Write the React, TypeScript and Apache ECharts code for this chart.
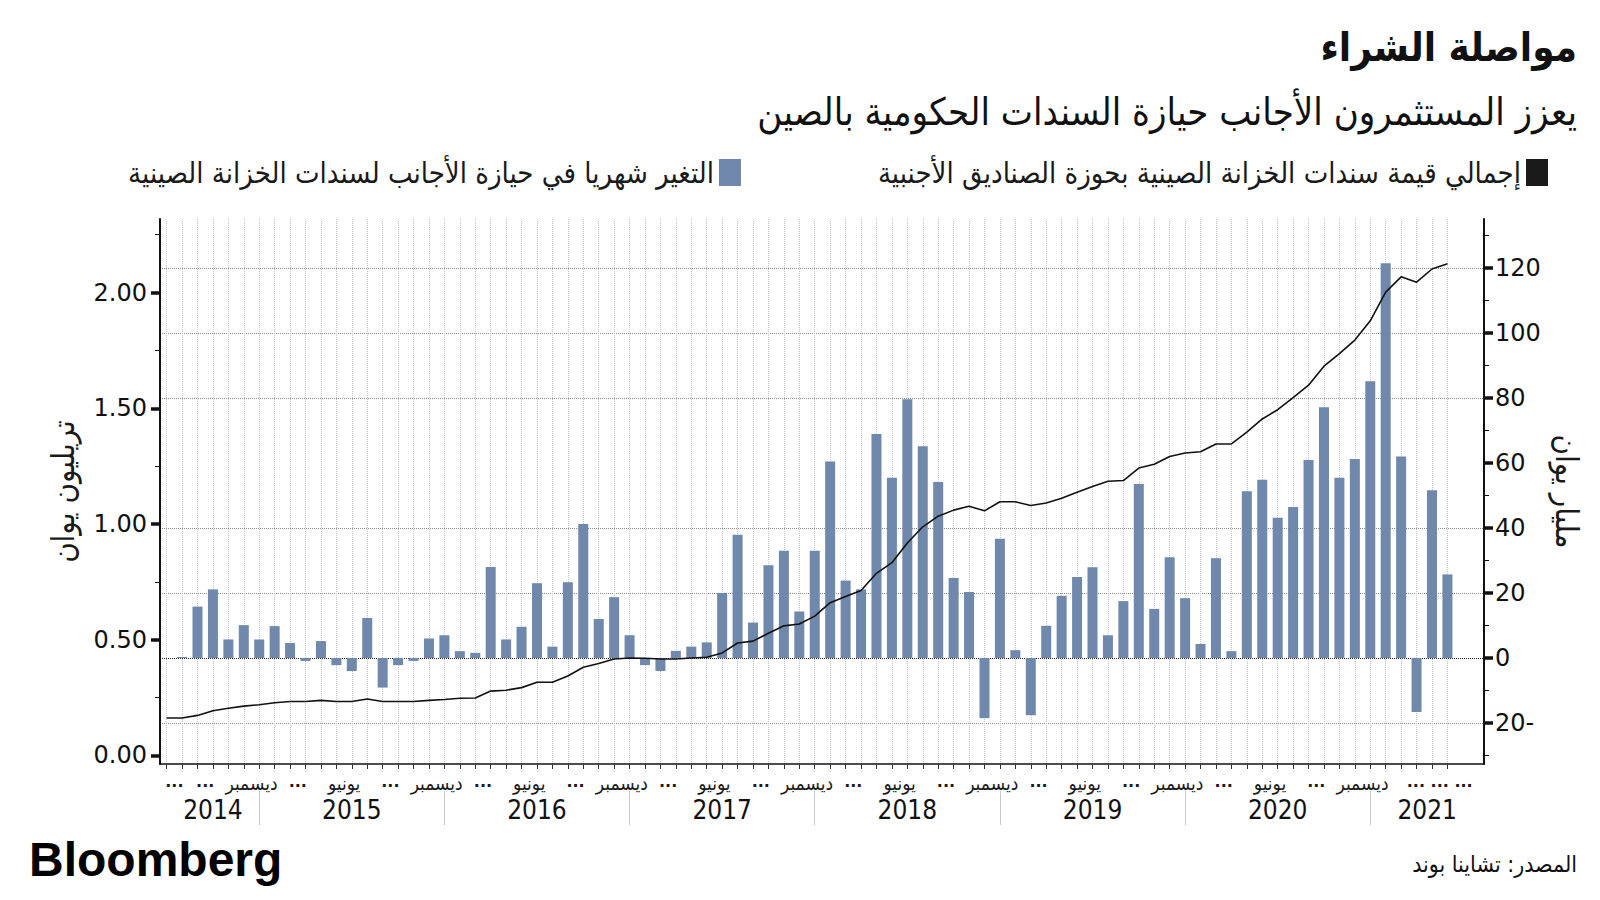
import React, { useEffect, useRef } from "react";
import * as echarts from "echarts";

const AR = "'DejaVu Sans Condensed', 'DejaVu Sans', sans-serif";
const NUM = "'DejaVu Sans', sans-serif";

const titleText = "مواصلة الشراء";
const subtitleText = "يعزز المستثمرون الأجانب حيازة السندات الحكومية بالصين";
const lineName = "إجمالي قيمة سندات الخزانة الصينية بحوزة الصناديق الأجنبية";
const barName = "التغير شهريا في حيازة الأجانب لسندات الخزانة الصينية";
const leftAxisName = "تريليون يوان";
const rightAxisName = "مليار يوان";
const sourceText = "المصدر: تشاينا بوند";
const brandText = "Bloomberg";

// month-end data, first point = June 2014
const startYear = 2014;
const startMonth = 6;

// total holdings, trillion yuan (left axis)
const holdings = [
  0.162, 0.162, 0.173, 0.193, 0.204, 0.213, 0.219, 0.228, 0.233, 0.233,
  0.238, 0.233, 0.233, 0.244, 0.233, 0.233, 0.233, 0.238, 0.242, 0.247,
  0.248, 0.278, 0.282, 0.293, 0.316, 0.316, 0.343, 0.381, 0.397, 0.417,
  0.421, 0.42, 0.417, 0.417, 0.421, 0.424, 0.443, 0.486, 0.494, 0.528,
  0.56, 0.568, 0.602, 0.66, 0.687, 0.713, 0.787, 0.833, 0.918, 0.988,
  1.034, 1.06, 1.077, 1.057, 1.096, 1.096, 1.08, 1.091, 1.111, 1.137,
  1.162, 1.185, 1.188, 1.242, 1.258, 1.292, 1.307, 1.312, 1.346, 1.346,
  1.397, 1.454, 1.494, 1.546, 1.6, 1.682, 1.736, 1.795, 1.878, 2.002,
  2.068, 2.045, 2.102, 2.125,
];

// monthly change, billion yuan (right axis)
const changes: (number | null)[] = [
  null, 0.3, 15.8, 21.1, 5.7, 10.1, 5.7, 9.8, 4.6, -0.9,
  5.2, -2.2, -4.0, 12.3, -9.1, -2.2, -0.9, 6.0, 7.0, 2.1,
  1.6, 28.0, 5.7, 9.6, 23.0, 3.5, 23.3, 41.2, 12.0, 18.7,
  7.0, -2.2, -4.0, 2.2, 3.5, 4.8, 20.0, 37.9, 10.9, 28.5,
  33.0, 14.3, 33.0, 60.4, 23.8, 21.1, 68.9, 55.4, 79.6, 65.1,
  54.1, 24.6, 20.3, -18.5, 36.7, 2.4, -17.6, 9.9, 19.1, 24.9,
  27.9, 7.0, 17.5, 53.5, 15.1, 31.0, 18.4, 4.3, 30.7, 2.1,
  51.3, 54.8, 43.1, 46.4, 60.9, 77.1, 55.4, 61.2, 85.1, 121.4,
  62.0, -16.6, 51.6, 25.7,
];

// axis tick values
const leftTicks = [0, 0.5, 1, 1.5, 2];
const leftAllTicks = [0, 0.25, 0.5, 0.75, 1, 1.25, 1.5, 1.75, 2, 2.25];
const rightTicks = [-20, 0, 20, 40, 60, 80, 100, 120];
const rightAllTicks = [-30, -20, -10, 0, 10, 20, 30, 40, 50, 60, 70, 80, 90, 100, 110, 120, 130];
const rightGridValues = [-20, 20, 40, 80, 100, 120];

// month tick labels (shown mid-month)
const monthTickLabels: [string, string][] = [
  ["2014-07", "..."], ["2014-09", "..."], ["2014-12", "ديسمبر"],
  ["2015-03", "..."], ["2015-06", "يونيو"], ["2015-09", "..."], ["2015-12", "ديسمبر"],
  ["2016-03", "..."], ["2016-06", "يونيو"], ["2016-09", "..."], ["2016-12", "ديسمبر"],
  ["2017-03", "..."], ["2017-06", "يونيو"], ["2017-09", "..."], ["2017-12", "ديسمبر"],
  ["2018-03", "..."], ["2018-06", "يونيو"], ["2018-09", "..."], ["2018-12", "ديسمبر"],
  ["2019-03", "..."], ["2019-06", "يونيو"], ["2019-09", "..."], ["2019-12", "ديسمبر"],
  ["2020-03", "..."], ["2020-06", "يونيو"], ["2020-09", "..."], ["2020-12", "ديسمبر"],
  ["2021-05", "... ... ..."],
];

const monthKeys: string[] = holdings.map((_, i) => {
  const t = startMonth - 1 + i;
  const y = startYear + Math.floor(t / 12);
  const m = (t % 12) + 1;
  return `${y}-${String(m).padStart(2, "0")}`;
});

export default function App() {
  const ref = useRef<HTMLDivElement>(null);

  useEffect(() => {
    if (!ref.current) return;
    const chart = echarts.init(ref.current, undefined, { renderer: "svg" });

    const xMin = -0.43;
    const xMax = 85.37;
    const idxOf = (k: string) => monthKeys.indexOf(k);
    const monthIdx = monthKeys.map((_, i) => i);

    const monthLabelPos = monthTickLabels.map(([k]) => idxOf(k) - 0.5);
    const monthLabelText = (v: number) => {
      const k = monthLabelPos.findIndex((p) => Math.abs(p - v) < 1e-6);
      if (k < 0) return "";
      const t = monthTickLabels[k][1];
      return t.startsWith("...") ? `{d|${t}}` : t;
    };

    const decIdx = monthIdx.filter((i) => monthKeys[i].endsWith("-12"));
    const years = Array.from(new Set(monthKeys.map((k) => k.slice(0, 4))));
    const yearPos = years.map((y) => {
      const prev = monthKeys.indexOf(`${Number(y) - 1}-12`);
      const cur = monthKeys.indexOf(`${y}-12`);
      const lo = prev >= 0 ? prev : 0;
      const hi = cur >= 0 ? cur : xMax;
      return (lo + hi) / 2;
    });
    const yearText = (v: number) => {
      const k = yearPos.findIndex((p) => Math.abs(p - v) < 1e-6);
      return k < 0 ? "" : years[k];
    };

    const gridColors = rightAllTicks.map((v) =>
      v === 0 ? "#2a2a2a" : rightGridValues.includes(v) ? "#8c8c8c" : "rgba(0,0,0,0)"
    );

    const lMin = -0.037, lMax = 2.318;
    const rMin = -32.6, rMax = 135;

    const option: any = {
      animation: false,
      backgroundColor: "#ffffff",
      grid: { left: 160, right: 116, top: 219, bottom: 136 },
      legend: [
        {
          data: [{ name: lineName, icon: "rect" }],
          right: 47,
          top: 153,
          align: "right",
          itemWidth: 22,
          itemHeight: 27,
          selectedMode: false,
          textStyle: { fontFamily: AR, fontSize: 29, color: "#1a1a1a" },
        },
        {
          data: [{ name: barName, icon: "rect" }],
          right: 854,
          top: 153,
          align: "right",
          itemWidth: 22,
          itemHeight: 27,
          selectedMode: false,
          textStyle: { fontFamily: AR, fontSize: 29, color: "#1a1a1a" },
        },
      ],
      xAxis: [
        {
          type: "value",
          min: xMin,
          max: xMax,
          position: "bottom",
          axisLine: { show: true, onZero: false, lineStyle: { color: "#111", width: 1.5 } },
          axisTick: {
            show: true,
            customValues: monthIdx,
            length: 5,
            lineStyle: { color: "#333", width: 1 },
          },
          splitLine: {
            show: true,
            lineStyle: { color: "#c4c4c4", type: "dotted", width: 1 },
          },
          axisLabel: {
            show: true,
            customValues: monthLabelPos,
            formatter: monthLabelText,
            showMinLabel: true,
            showMaxLabel: true,
            hideOverlap: false,
            margin: 9,
            fontFamily: AR,
            fontSize: 19,
            color: "#1a1a1a",
            rich: { d: { fontFamily: NUM, fontSize: 16, fontWeight: "bold", color: "#1a1a1a" } },
          },
        },
        {
          type: "value",
          min: xMin,
          max: xMax,
          position: "bottom",
          offset: 27,
          axisLine: { show: false, onZero: false },
          axisTick: {
            show: true,
            customValues: decIdx,
            length: 34,
            lineStyle: { color: "#c8c8c8", width: 1 },
          },
          splitLine: { show: false },
          axisLabel: {
            show: true,
            customValues: yearPos,
            formatter: yearText,
            showMinLabel: true,
            showMaxLabel: true,
            margin: 6,
            fontFamily: AR,
            fontSize: 26,
            color: "#111",
          },
        },
      ],
      yAxis: [
        {
          type: "value",
          position: "left",
          min: lMin,
          max: lMax,
          name: leftAxisName,
          nameLocation: "middle",
          nameRotate: 90,
          nameGap: 82,
          nameTextStyle: { fontFamily: AR, fontSize: 31, color: "#1a1a1a" },
          axisLine: { show: true, onZero: false, lineStyle: { color: "#111", width: 2 } },
          axisTick: { show: true, customValues: leftAllTicks, length: 5, lineStyle: { color: "#111", width: 1 } },
          axisLabel: {
            customValues: leftTicks,
            formatter: (v: number) => v.toFixed(2),
            margin: 13,
            fontFamily: NUM,
            fontSize: 24,
            color: "#111",
          },
          splitLine: { show: false },
        },
        {
          type: "value",
          position: "right",
          min: rMin,
          max: rMax,
          name: rightAxisName,
          nameLocation: "middle",
          nameRotate: -90,
          nameGap: 56,
          nameTextStyle: { fontFamily: AR, fontSize: 31, color: "#1a1a1a" },
          axisLine: { show: true, onZero: false, lineStyle: { color: "#111", width: 2 } },
          axisTick: { show: true, customValues: rightAllTicks, length: 5, lineStyle: { color: "#111", width: 1 } },
          axisLabel: {
            customValues: rightTicks,
            formatter: (v: number) => (v < 0 ? `${Math.abs(v)}-` : `${v}`),
            margin: 11,
            fontFamily: NUM,
            fontSize: 24,
            color: "#111",
          },
          splitLine: { show: true, lineStyle: { color: gridColors, type: "dotted", width: 1 } },
        },
        {
          type: "value",
          position: "right",
          min: rMin,
          max: rMax,
          axisLine: { show: false, onZero: false },
          axisTick: { show: true, customValues: rightTicks, length: 9, lineStyle: { color: "#111", width: 3.5 } },
          axisLabel: { show: false },
          splitLine: { show: false },
        },
        {
          type: "value",
          position: "left",
          min: lMin,
          max: lMax,
          axisLine: { show: false, onZero: false },
          axisTick: { show: true, customValues: leftTicks, length: 9, lineStyle: { color: "#111", width: 3.5 } },
          axisLabel: { show: false },
          splitLine: { show: false },
        },
      ],
      series: [
        {
          name: barName,
          type: "bar",
          xAxisIndex: 0,
          yAxisIndex: 1,
          barWidth: 10,
          z: 3,
          itemStyle: { color: "#6f88ab" },
          data: changes.map((v, i) => [i, v === null ? "-" : v]),
        },
        {
          name: lineName,
          type: "line",
          xAxisIndex: 0,
          yAxisIndex: 0,
          symbol: "none",
          z: 4,
          color: "#1a1a1a",
          lineStyle: { color: "#111", width: 1.6 },
          itemStyle: { color: "#1a1a1a" },
          data: holdings.map((v, i) => [i, v]),
        },
      ],
      graphic: [
        {
          type: "text",
          right: 23,
          top: 27,
          style: { text: titleText, font: `bold 40px ${AR}`, fill: "#111" },
        },
        {
          type: "text",
          right: 23,
          top: 93,
          style: { text: subtitleText, font: `38px ${AR}`, fill: "#111" },
        },
        {
          type: "text",
          left: 29,
          top: 835,
          style: { text: brandText, font: `bold 48px 'Liberation Sans', Arial, sans-serif`, fill: "#000" },
        },
        {
          type: "text",
          right: 23,
          top: 852,
          style: { text: sourceText, font: `23px ${AR}`, fill: "#111" },
        },
      ],
    };

    chart.setOption(option);
    return () => chart.dispose();
  }, []);

  return (
    <div
      ref={ref}
      style={{ position: "fixed", left: 0, top: 0, width: 1600, height: 900, background: "#fff" }}
    />
  );
}
